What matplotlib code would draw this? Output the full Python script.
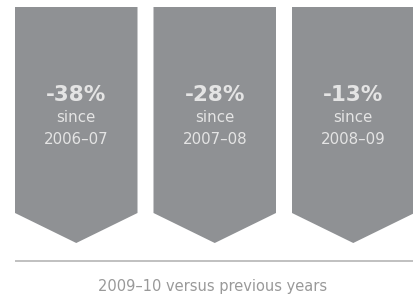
import matplotlib
matplotlib.use("Agg")
import matplotlib.pyplot as plt
from matplotlib.patches import Polygon

changes = [-38, -28, -13]
since_years = ["2006–07", "2007–08", "2008–09"]
caption = "2009–10 versus previous years"

W, H = 413, 298
fig = plt.figure(figsize=(W / 100, H / 100), dpi=100)
ax = fig.add_axes([0, 0, 1, 1])
ax.set_xlim(0, W)
ax.set_ylim(H, 0)
ax.axis("off")

shape_color = "#8f9194"
text_color = "#e4e4e4"
left0, step, width = 15, 138.5, 122.5
top, corner, tip = 7, 213, 243

for i, (c, yr) in enumerate(zip(changes, since_years)):
    x0 = left0 + i * step
    x1 = x0 + width
    xm = (x0 + x1) / 2
    poly = Polygon([(x0, top), (x1, top), (x1, corner), (xm, tip), (x0, corner)],
                   closed=True, facecolor=shape_color, edgecolor="none")
    ax.add_patch(poly)
    ax.text(xm, 95, f"{c}%", ha="center", va="center", color=text_color,
            fontsize=15.5, fontweight="bold", family="DejaVu Sans")
    ax.text(xm, 118, "since", ha="center", va="center", color=text_color,
            fontsize=10.8, family="DejaVu Sans")
    ax.text(xm, 140, yr, ha="center", va="center", color=text_color,
            fontsize=10.8, family="DejaVu Sans")

ax.plot([15, 413], [261, 261], color="#b5b5b5", lw=1.2, solid_capstyle="butt")
ax.text(213, 287, caption, ha="center", va="center", color="#999999",
        fontsize=10.5, family="DejaVu Sans")

fig.savefig("out.png", dpi=100)
